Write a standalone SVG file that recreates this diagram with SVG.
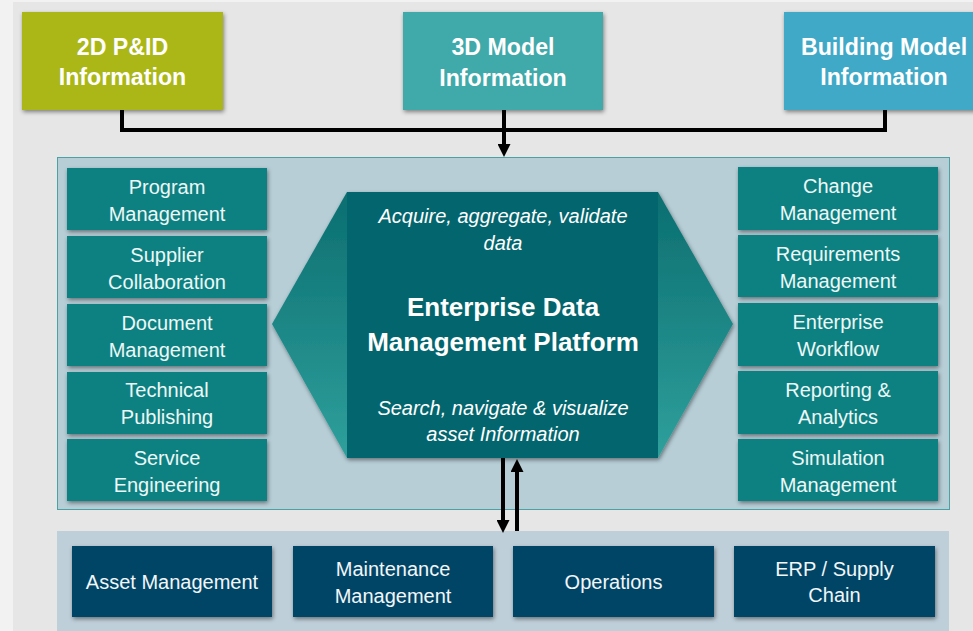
<svg xmlns="http://www.w3.org/2000/svg" width="973" height="631" viewBox="0 0 973 631">
  <defs>
    <style>
      .top { font-family: "Liberation Sans", Arial, sans-serif; font-weight: bold; font-size: 23.2px; fill: #ffffff; text-anchor: middle; }
      .side { font-family: "Liberation Sans", Arial, sans-serif; font-size: 20px; fill: #eef7f7; text-anchor: middle; }
      .bot { font-family: "Liberation Sans", Arial, sans-serif; font-size: 20px; fill: #f2f6f9; text-anchor: middle; }
      .ital { font-family: "Liberation Sans", Arial, sans-serif; font-style: italic; font-size: 20px; fill: #ffffff; text-anchor: middle; }
      .big { font-family: "Liberation Sans", Arial, sans-serif; font-weight: bold; font-size: 26px; fill: #ffffff; text-anchor: middle; }
      .sbox { fill: #0f8181; filter: url(#sh); }
      .bbox { fill: #014466; filter: url(#sh); }
      .conn { fill: none; stroke: #000000; stroke-width: 4; stroke-linejoin: miter; }
    </style>
    <filter id="sh" x="-10%" y="-20%" width="120%" height="140%">
      <feDropShadow dx="1" dy="2" stdDeviation="2.2" flood-color="#000" flood-opacity="0.45"/>
    </filter>
    <linearGradient id="wing" x1="0" y1="0" x2="0" y2="1">
      <stop offset="0" stop-color="#0b6e70"/>
      <stop offset="1" stop-color="#2fa09c"/>
    </linearGradient>
    <marker id="ah" viewBox="0 0 13 13" refX="0" refY="6.5" markerWidth="13" markerHeight="13" markerUnits="userSpaceOnUse" orient="auto">
      <path d="M0,0 L13,6.5 L0,13 z" fill="#000"/>
    </marker>
  </defs>

  <rect x="0" y="0" width="973" height="631" fill="#f2f2f2"/>
  <rect x="13" y="2" width="960" height="629" fill="#e6e6e6"/>

  <!-- panels -->
  <rect id="platform-panel" x="57.5" y="157.5" width="892" height="352" fill="#b7ced7" stroke="#4aa2a6" stroke-width="1"/>
  <rect id="systems-panel" x="57" y="531" width="892" height="100" fill="#bfcfd9"/>

  <!-- top sources -->
  <g id="node-2d-pid">
    <rect x="22" y="12" width="201" height="98" fill="#abb717" filter="url(#sh)"/>
    <text class="top" x="122.5" y="55">2D P&amp;ID</text>
    <text class="top" x="122.5" y="85">Information</text>
  </g>
  <g id="node-3d-model">
    <rect x="403" y="12" width="200" height="98" fill="#40a9a9" filter="url(#sh)"/>
    <text class="top" x="503" y="55">3D Model</text>
    <text class="top" x="503" y="86">Information</text>
  </g>
  <g id="node-building-model">
    <rect x="784" y="12" width="200" height="98" fill="#41a9c7" filter="url(#sh)"/>
    <text class="top" x="884" y="55">Building Model</text>
    <text class="top" x="884" y="85">Information</text>
  </g>

  <!-- left modules -->
  <g id="node-program-management">
    <rect class="sbox" x="67" y="168" width="200" height="62"/>
    <text class="side" x="167" y="194">Program</text>
    <text class="side" x="167" y="221">Management</text>
  </g>
  <g id="node-supplier-collaboration">
    <rect class="sbox" x="67" y="236" width="200" height="62"/>
    <text class="side" x="167" y="262">Supplier</text>
    <text class="side" x="167" y="289">Collaboration</text>
  </g>
  <g id="node-document-management">
    <rect class="sbox" x="67" y="304" width="200" height="62"/>
    <text class="side" x="167" y="330">Document</text>
    <text class="side" x="167" y="357">Management</text>
  </g>
  <g id="node-technical-publishing">
    <rect class="sbox" x="67" y="372" width="200" height="62"/>
    <text class="side" x="167" y="397">Technical</text>
    <text class="side" x="167" y="424">Publishing</text>
  </g>
  <g id="node-service-engineering">
    <rect class="sbox" x="67" y="439" width="200" height="62"/>
    <text class="side" x="167" y="465">Service</text>
    <text class="side" x="167" y="492">Engineering</text>
  </g>

  <!-- right modules -->
  <g id="node-change-management">
    <rect class="sbox" x="738" y="167" width="200" height="63"/>
    <text class="side" x="838" y="193">Change</text>
    <text class="side" x="838" y="220">Management</text>
  </g>
  <g id="node-requirements-management">
    <rect class="sbox" x="738" y="235" width="200" height="62"/>
    <text class="side" x="838" y="261">Requirements</text>
    <text class="side" x="838" y="288">Management</text>
  </g>
  <g id="node-enterprise-workflow">
    <rect class="sbox" x="738" y="303" width="200" height="63"/>
    <text class="side" x="838" y="329">Enterprise</text>
    <text class="side" x="838" y="356">Workflow</text>
  </g>
  <g id="node-reporting-analytics">
    <rect class="sbox" x="738" y="371" width="200" height="63"/>
    <text class="side" x="838" y="397">Reporting &amp;</text>
    <text class="side" x="838" y="424">Analytics</text>
  </g>
  <g id="node-simulation-management">
    <rect class="sbox" x="738" y="439" width="200" height="62"/>
    <text class="side" x="838" y="465">Simulation</text>
    <text class="side" x="838" y="492">Management</text>
  </g>

  <!-- center platform -->
  <g id="node-edm-platform">
    <polygon points="272,324 347,192 658,192 733,324 658,458 347,458" fill="url(#wing)" filter="url(#sh)"/>
    <rect x="347" y="192" width="311" height="266" fill="#03656d"/>
    <text class="ital" x="503" y="223">Acquire, aggregate, validate</text>
    <text class="ital" x="503" y="250">data</text>
    <text class="big" x="503" y="316">Enterprise Data</text>
    <text class="big" x="503" y="351">Management Platform</text>
    <text class="ital" x="503" y="415">Search, navigate &amp; visualize</text>
    <text class="ital" x="503" y="441">asset Information</text>
  </g>

  <!-- bottom systems -->
  <g id="node-asset-management">
    <rect class="bbox" x="72" y="546" width="200" height="71"/>
    <text class="bot" x="172" y="589">Asset Management</text>
  </g>
  <g id="node-maintenance-management">
    <rect class="bbox" x="293" y="546" width="200" height="71"/>
    <text class="bot" x="393" y="576">Maintenance</text>
    <text class="bot" x="393" y="603">Management</text>
  </g>
  <g id="node-operations">
    <rect class="bbox" x="513" y="546" width="201" height="71"/>
    <text class="bot" x="613.5" y="589">Operations</text>
  </g>
  <g id="node-erp-supply-chain">
    <rect class="bbox" x="734" y="546" width="201" height="71"/>
    <text class="bot" x="834.5" y="576">ERP / Supply</text>
    <text class="bot" x="834.5" y="602">Chain</text>
  </g>

  <!-- connectors -->
  <g id="connectors">
    <polyline class="conn" points="122,110 122,130 885,130 885,110"/>
    <line class="conn" x1="504" y1="110" x2="504" y2="144" marker-end="url(#ah)"/>
    <line class="conn" x1="503" y1="458" x2="503" y2="520" marker-end="url(#ah)"/>
    <line class="conn" x1="517" y1="531" x2="517" y2="472" marker-end="url(#ah)"/>
  </g>
</svg>
